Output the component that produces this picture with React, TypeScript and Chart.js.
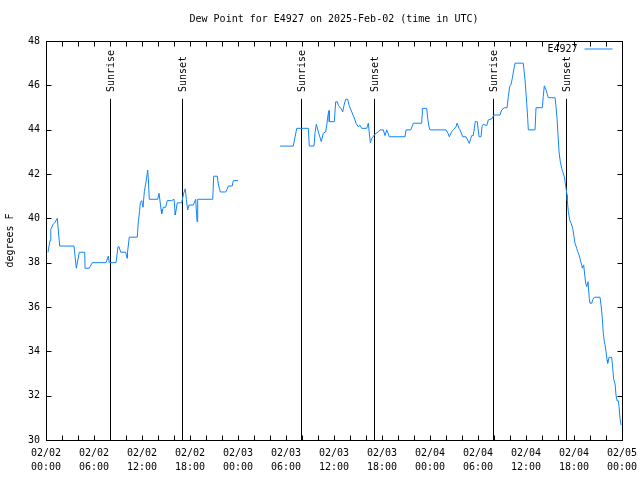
import React, { useEffect, useRef } from 'react';
import { Chart, registerables } from 'chart.js';

Chart.register(...registerables);

const TITLE = 'Dew Point for E4927 on 2025-Feb-02 (time in UTC)';
const SERIES_NAME = 'E4927';
const Y_TITLE = 'degrees F';
// x values are hours since 2025-02-02 00:00 UTC
const X_MIN = 0;
const X_MAX = 72;
const X_MINOR_STEP = 2;
const X_LABEL_STEP = 6;
const Y_MIN = 30;
const Y_MAX = 48;
const Y_STEP = 2;
const DAY_LABELS = ['02/02', '02/03', '02/04', '02/05'];

const seg1Hours = [
  0.25, 0.5, 0.6, 0.9, 1.1, 1.41, 1.45, 1.71, 3.5, 3.66,
  3.79, 4.16, 4.84, 4.88, 5.41, 5.79, 7.5, 7.79, 7.91, 8.75,
  9.0, 9.13, 9.34, 9.96, 10.13, 10.19, 10.41, 11.41, 11.54, 11.69,
  11.79, 11.96, 12.13, 12.29, 12.54, 12.71, 12.79, 12.91, 13.96, 14.13,
  14.38, 14.46, 14.66, 14.96, 15.16, 15.71, 16.0, 16.13, 16.16, 16.41,
  16.96, 17.09, 17.21, 17.41, 17.54, 17.71, 17.88, 18.41, 18.71, 18.88,
  18.96, 20.84, 20.96, 21.41, 21.54, 21.79, 22.46, 22.63, 22.79, 23.29,
  23.41, 24.0,
];
const seg1Dew = [
  38.47, 39.0, 39.5, 39.74, 39.8, 40.0, 40.0, 38.75, 38.75, 38.2,
  37.75, 38.47, 38.47, 37.75, 37.75, 38.0, 38.0, 38.3, 38.0, 38.0,
  38.72, 38.72, 38.47, 38.47, 38.2, 38.47, 39.15, 39.15, 39.85, 40.3,
  40.7, 40.8, 40.5, 41.2, 41.73, 42.18, 41.8, 40.86, 40.86, 41.13,
  40.4, 40.2, 40.5, 40.5, 40.8, 40.8, 40.86, 40.3, 40.15, 40.7,
  40.7, 40.93, 41.13, 41.33, 40.86, 40.38, 40.6, 40.6, 40.86, 39.85,
  40.86, 40.86, 41.9, 41.9, 41.55, 41.19, 41.19, 41.3, 41.46, 41.46,
  41.7, 41.7,
];

const seg2Hours = [
  29.25, 30.91, 31.34, 32.79, 32.91, 33.5, 33.63, 33.79, 34.09, 34.41,
  34.66, 34.96, 35.09, 35.25, 35.38, 35.41, 36.04, 36.21, 36.41, 36.54,
  36.88, 37.09, 37.25, 37.46, 37.71, 37.88, 38.38, 38.63, 38.75, 39.04,
  39.25, 39.46, 40.09, 40.29, 40.54, 40.71, 41.13, 41.54, 41.75, 42.16,
  42.38, 42.59, 42.75, 42.91, 44.88, 45.0, 45.59, 45.75, 45.91, 46.96,
  47.0, 47.04, 47.59, 47.71, 47.88, 48.0, 50.0, 50.25, 50.41, 50.71,
  50.91, 51.25, 51.38, 51.63, 51.75, 52.09, 52.5, 52.71, 52.91, 53.09,
  53.21, 53.41, 53.66, 53.91, 54.13, 54.38, 54.5, 54.66, 55.09, 55.29,
  55.63, 55.79, 55.96, 56.75, 56.96, 57.29, 57.63, 57.79, 57.96, 58.13,
  58.29, 58.5, 58.63, 59.66, 59.88, 60.09, 60.21, 60.29, 61.13, 61.25,
  62.04, 62.16, 62.29, 62.5, 62.63, 62.79, 63.63, 63.75, 63.88, 64.0,
  64.13, 64.29, 64.46, 64.59, 64.79, 64.88, 65.0, 65.13, 65.16, 65.29,
  65.46, 65.63, 65.84, 66.0, 66.13, 66.34, 66.46, 66.63, 66.79, 66.96,
  67.04, 67.21, 67.34, 67.46, 67.59, 67.75, 67.91, 68.0, 68.21, 68.34,
  68.54, 69.25, 69.38, 69.54, 69.66, 69.79, 69.88, 70.0, 70.13, 70.21,
  70.38, 70.71, 70.84, 70.96, 71.13, 71.25, 71.38, 71.54, 71.63, 71.75,
  71.88,
];
const seg2Dew = [
  43.26, 43.26, 44.06, 44.06, 43.26, 43.26, 43.87, 44.24, 43.84, 43.46,
  43.84, 43.9, 44.2, 44.66, 44.86, 44.36, 44.36, 45.26, 45.26, 45.1,
  44.95, 44.8, 45.1, 45.37, 45.37, 45.1, 44.66, 44.44, 44.29, 44.13,
  44.2, 44.06, 44.06, 44.29, 43.41, 43.6, 43.8, 43.9, 43.99, 43.99,
  43.73, 43.99, 43.84, 43.68, 43.68, 43.99, 43.99, 44.13, 44.29, 44.29,
  44.63, 44.96, 44.96, 44.51, 44.13, 43.99, 43.99, 43.84, 43.68, 43.91,
  43.99, 44.13, 44.29, 44.06, 43.99, 43.68, 43.68, 43.53, 43.38, 43.6,
  43.73, 43.73, 44.36, 44.36, 43.68, 43.68, 44.13, 44.24, 44.18, 44.44,
  44.48, 44.51, 44.66, 44.66, 44.89, 44.99, 44.99, 45.49, 45.94, 46.05,
  46.32, 46.77, 47.0, 47.0, 46.24, 45.19, 44.51, 43.99, 43.99, 44.99,
  44.99, 45.5, 45.98, 45.8, 45.64, 45.44, 45.44, 45.04, 44.51, 43.76,
  43.0, 42.55, 42.26, 42.1, 41.88, 41.65, 41.36, 41.05, 40.83, 40.3,
  39.93, 39.78, 39.55, 39.17, 38.87, 38.65, 38.5, 38.35, 38.12, 37.9,
  37.75, 37.9, 37.44, 37.07, 36.92, 37.14, 36.39, 36.17, 36.17, 36.32,
  36.44, 36.44, 36.09, 35.49, 34.82, 34.44, 34.3, 33.99, 33.61, 33.46,
  33.73, 33.73, 33.24, 32.74, 32.53, 32.03, 31.77, 31.77, 31.5, 30.98,
  30.68,
];

const sunEventHours = [7.95, 17.0, 31.9, 41.0, 55.85, 65.0];
const sunEventLabels = ['Sunrise', 'Sunset', 'Sunrise', 'Sunset', 'Sunrise', 'Sunset'];

const LINE_COLOR = '#1084ff';
const FONT_FAMILY = '"DejaVu Sans Mono", "Liberation Mono", monospace';
const FONT = `10px ${FONT_FAMILY}`;

const pad2 = (n: number) => (n < 10 ? '0' + n : String(n));

const gnuplotDecor = {
  id: 'gnuplotDecor',
  beforeDatasetsDraw(chart: any) {
    const { ctx, chartArea: a, scales } = chart;
    const x = scales.x;
    const h = a.bottom - a.top;
    const lineTop = a.bottom - 0.855 * h;
    const labelEnd = a.bottom - 0.872 * h;
    ctx.save();
    ctx.strokeStyle = '#000';
    ctx.fillStyle = '#000';
    ctx.lineWidth = 1;
    ctx.font = FONT;
    sunEventHours.forEach((hr, i) => {
      const px = Math.round(x.getPixelForValue(hr)) + 0.5;
      ctx.beginPath();
      ctx.moveTo(px, lineTop);
      ctx.lineTo(px, a.bottom);
      ctx.stroke();
      ctx.save();
      ctx.translate(px + 1, labelEnd);
      ctx.rotate(-Math.PI / 2);
      ctx.textAlign = 'left';
      ctx.textBaseline = 'middle';
      ctx.fillText(sunEventLabels[i], 0, 0);
      ctx.restore();
    });
    ctx.restore();
  },
  afterDraw(chart: any) {
    const { ctx, chartArea: a, scales } = chart;
    const x = scales.x;
    const y = scales.y;
    const L = Math.round(a.left) + 0.5;
    const R = Math.round(a.right) + 0.5;
    const T = Math.round(a.top) + 0.5;
    const B = Math.round(a.bottom) + 0.5;
    const tick = 5;
    ctx.save();
    ctx.strokeStyle = '#000';
    ctx.lineWidth = 1;
    ctx.beginPath();
    x.ticks.forEach((t: any) => {
      const px = Math.round(x.getPixelForValue(t.value)) + 0.5;
      ctx.moveTo(px, B);
      ctx.lineTo(px, B - tick);
      ctx.moveTo(px, T);
      ctx.lineTo(px, T + tick);
    });
    y.ticks.forEach((t: any) => {
      const py = Math.round(y.getPixelForValue(t.value)) + 0.5;
      ctx.moveTo(L, py);
      ctx.lineTo(L + tick, py);
      ctx.moveTo(R, py);
      ctx.lineTo(R - tick, py);
    });
    ctx.stroke();
    ctx.strokeRect(L, T, R - L, B - T);

    // key
    const ky = T + 7.5;
    ctx.fillStyle = '#000';
    ctx.font = FONT;
    ctx.textAlign = 'right';
    ctx.textBaseline = 'middle';
    ctx.fillText(SERIES_NAME, R - 45, ky);
    ctx.strokeStyle = LINE_COLOR;
    ctx.beginPath();
    ctx.moveTo(R - 38, ky);
    ctx.lineTo(R - 10, ky);
    ctx.stroke();
    ctx.restore();
  },
};

export default function App() {
  const ref = useRef<HTMLCanvasElement | null>(null);

  useEffect(() => {
    if (!ref.current) return;
    const points: { x: number; y: number | null }[] = [];
    seg1Hours.forEach((h, i) => points.push({ x: h, y: seg1Dew[i] }));
    points.push({ x: (seg1Hours[seg1Hours.length - 1] + seg2Hours[0]) / 2, y: null });
    seg2Hours.forEach((h, i) => points.push({ x: h, y: seg2Dew[i] }));

    const chart = new Chart(ref.current, {
      type: 'line',
      data: {
        datasets: [
          {
            label: SERIES_NAME,
            data: points as any,
            borderColor: LINE_COLOR,
            borderWidth: 1,
            pointRadius: 0,
            spanGaps: false,
            tension: 0,
            fill: false,
          },
        ],
      },
      options: {
        responsive: false,
        animation: false,
        color: '#000',
        layout: { padding: { left: 0, right: 0, top: 0, bottom: 0 } },
        plugins: {
          legend: { display: false },
          tooltip: { enabled: false },
          title: {
            display: true,
            text: TITLE,
            fullSize: false,
            color: '#000',
            font: { family: FONT_FAMILY, size: 10, weight: 'normal', lineHeight: 1.2 },
            padding: { top: 13, bottom: 16 },
          },
        },
        scales: {
          x: {
            type: 'linear',
            min: X_MIN,
            max: X_MAX,
            afterFit: (s: any) => {
              s.height = 40;
              s.paddingLeft = 0;
              s.paddingRight = 18;
            },
            border: { display: false },
            grid: { display: false, drawTicks: false },
            ticks: {
              stepSize: X_MINOR_STEP,
              autoSkip: false,
              maxRotation: 0,
              minRotation: 0,
              padding: 6,
              color: '#000',
              font: { family: FONT_FAMILY, size: 10, lineHeight: 1.4 },
              callback: (v: any) => {
                const n = Number(v);
                if (n % X_LABEL_STEP !== 0) return '';
                return [DAY_LABELS[Math.floor(n / 24)], pad2(n % 24) + ':00'];
              },
            },
          },
          y: {
            min: Y_MIN,
            max: Y_MAX,
            afterFit: (s: any) => {
              s.width = 46;
              s.paddingTop = 0;
              s.paddingBottom = 0;
            },
            border: { display: false },
            grid: { display: false, drawTicks: false },
            ticks: {
              stepSize: Y_STEP,
              padding: 6,
              color: '#000',
              font: { family: FONT_FAMILY, size: 10 },
            },
            title: {
              display: true,
              text: Y_TITLE,
              color: '#000',
              padding: { top: 4, bottom: 0 },
              font: { family: FONT_FAMILY, size: 10, lineHeight: 1.2 },
            },
          },
        },
      } as any,
      plugins: [gnuplotDecor],
    });
    return () => chart.destroy();
  }, []);

  return (
    <div style={{ position: 'fixed', left: 0, top: 0, width: 640, height: 480, background: '#fff' }}>
      <canvas ref={ref} width={640} height={480} />
    </div>
  );
}
